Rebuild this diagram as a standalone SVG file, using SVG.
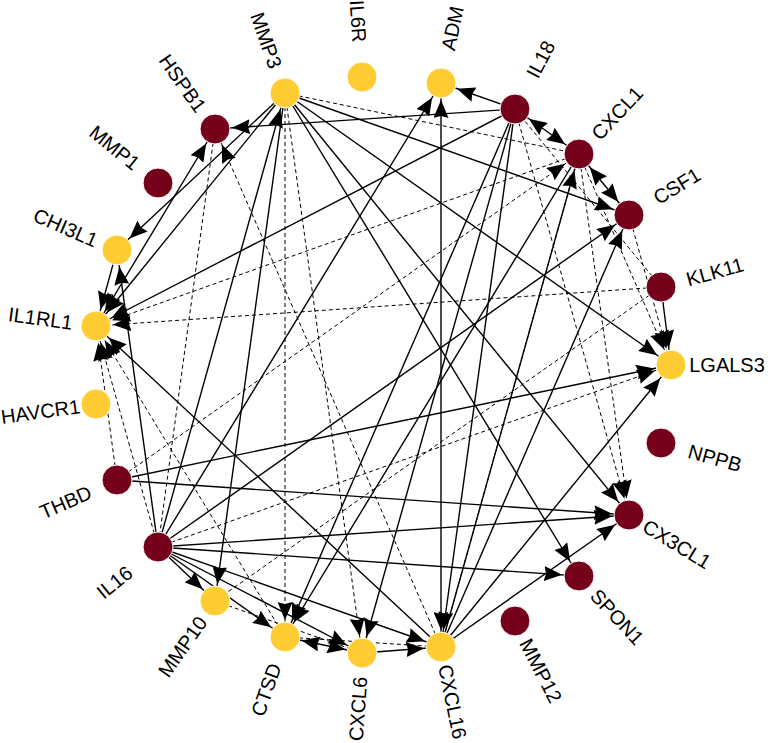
<svg xmlns="http://www.w3.org/2000/svg" width="768" height="743" viewBox="0 0 768 743">
<style>
.s{stroke:#000;stroke-width:1.4;fill:none}
.d{stroke:#000;stroke-width:1;stroke-dasharray:4 3;fill:none}
.e{marker-end:url(#ar)}
.b{marker-start:url(#ar);marker-end:url(#ar)}
.y{fill:#FFCC33;stroke:#fff;stroke-width:1}
.r{fill:#750019;stroke:#fff;stroke-width:1}
text{font-family:"Liberation Sans",Arial,sans-serif;font-size:20px;fill:#000;text-anchor:middle;dominant-baseline:central}
</style>
<defs>
<marker id="ar" viewBox="0 0 18 15" markerWidth="18" markerHeight="15" refX="35" refY="7.5" orient="auto-start-reverse" markerUnits="userSpaceOnUse">
<path d="M0,0 L18,7.5 L0,15 L2,7.5 z" fill="#000"/>
</marker>
</defs>
<rect width="768" height="743" fill="#fff"/>
<g id="edges">
<line class="s e" x1="515" y1="109" x2="441" y2="83"/>
<line class="s e" x1="515" y1="109" x2="215" y2="129"/>
<line class="s e" x1="515" y1="109" x2="96" y2="326"/>
<line class="s e" x1="515" y1="109" x2="285" y2="637"/>
<line class="s e" x1="515" y1="109" x2="362" y2="653"/>
<line class="s b" x1="515" y1="109" x2="579" y2="154"/>
<line class="s b" x1="579" y1="154" x2="629" y2="215"/>
<line class="s e" x1="579" y1="154" x2="285" y2="637"/>
<line class="s e" x1="285" y1="93" x2="629" y2="215"/>
<line class="s e" x1="285" y1="93" x2="671" y2="365"/>
<line class="s e" x1="285" y1="93" x2="629" y2="515"/>
<line class="s e" x1="285" y1="93" x2="579" y2="576"/>
<line class="s e" x1="285" y1="93" x2="117" y2="250"/>
<line class="s e" x1="285" y1="93" x2="96" y2="326"/>
<line class="s e" x1="285" y1="93" x2="215" y2="601"/>
<line class="s e" x1="158" y1="547" x2="285" y2="93"/>
<line class="s e" x1="158" y1="547" x2="117" y2="250"/>
<line class="s b" x1="215" y1="129" x2="96" y2="326"/>
<line class="s e" x1="117" y1="250" x2="96" y2="326"/>
<line class="s e" x1="441" y1="647" x2="96" y2="326"/>
<line class="s e" x1="661" y1="287" x2="671" y2="365"/>
<line class="s e" x1="117" y1="480" x2="671" y2="365"/>
<line class="s e" x1="441" y1="647" x2="671" y2="365"/>
<line class="s e" x1="117" y1="480" x2="629" y2="515"/>
<line class="s e" x1="158" y1="547" x2="629" y2="515"/>
<line class="s e" x1="441" y1="647" x2="629" y2="515"/>
<line class="s e" x1="158" y1="547" x2="579" y2="576"/>
<line class="s e" x1="158" y1="547" x2="215" y2="601"/>
<line class="s e" x1="158" y1="547" x2="285" y2="637"/>
<line class="s e" x1="158" y1="547" x2="362" y2="653"/>
<line class="s e" x1="158" y1="547" x2="441" y2="647"/>
<line class="s e" x1="158" y1="547" x2="629" y2="215"/>
<line class="s e" x1="158" y1="547" x2="441" y2="83"/>
<line class="s b" x1="441" y1="83" x2="441" y2="647"/>
<line class="s b" x1="285" y1="637" x2="362" y2="653"/>
<line class="s e" x1="362" y1="653" x2="441" y2="647"/>
<line class="s e" x1="441" y1="647" x2="629" y2="215"/>
<line class="s e" x1="441" y1="647" x2="579" y2="154"/>
<line class="s e" x1="515" y1="109" x2="441" y2="647"/>
<line class="d" x1="285" y1="93" x2="579" y2="154"/>
<line class="d e" x1="285" y1="93" x2="285" y2="637"/>
<line class="d e" x1="285" y1="93" x2="362" y2="653"/>
<line class="d" x1="215" y1="129" x2="158" y2="547"/>
<line class="d e" x1="441" y1="647" x2="215" y2="129"/>
<line class="d e" x1="661" y1="287" x2="96" y2="326"/>
<line class="d e" x1="579" y1="154" x2="96" y2="326"/>
<line class="d e" x1="117" y1="480" x2="96" y2="326"/>
<line class="d e" x1="158" y1="547" x2="96" y2="326"/>
<line class="d e" x1="285" y1="637" x2="96" y2="326"/>
<line class="d e" x1="629" y1="215" x2="671" y2="365"/>
<line class="d e" x1="579" y1="154" x2="671" y2="365"/>
<line class="d e" x1="158" y1="547" x2="671" y2="365"/>
<line class="d e" x1="579" y1="154" x2="629" y2="515"/>
<line class="d e" x1="515" y1="109" x2="629" y2="515"/>
<line class="d" x1="661" y1="287" x2="215" y2="601"/>
<line class="d" x1="579" y1="154" x2="441" y2="647"/>
<line class="d e" x1="117" y1="480" x2="579" y2="154"/>
<line class="d" x1="215" y1="601" x2="362" y2="653"/>
<line class="d" x1="285" y1="637" x2="441" y2="647"/>
<line class="d" x1="661" y1="287" x2="515" y2="109"/>
</g>
<g id="n-IL6R"><circle class="y" cx="362" cy="77" r="15"/><text transform="translate(358.1,21.1) rotate(86)">IL6R</text></g>
<g id="n-ADM"><circle class="y" cx="441" cy="83" r="15"/><text transform="translate(452.5,28.2) rotate(-78.2)">ADM</text></g>
<g id="n-IL18"><circle class="r" cx="515" cy="109" r="15"/><text transform="translate(540.8,59.3) rotate(-62.5)">IL18</text></g>
<g id="n-CXCL1"><circle class="r" cx="579" cy="154" r="15"/><text transform="translate(617.2,113.1) rotate(-47)">CXCL1</text></g>
<g id="n-CSF1"><circle class="r" cx="629" cy="215" r="15"/><text transform="translate(676.9,185.9) rotate(-31.3)">CSF1</text></g>
<g id="n-KLK11"><circle class="r" cx="661" cy="287" r="15"/><text transform="translate(714.9,271.9) rotate(-15.6)">KLK11</text></g>
<g id="n-LGALS3"><circle class="y" cx="671" cy="365" r="15"/><text transform="translate(727,365)">LGALS3</text></g>
<g id="n-NPPB"><circle class="r" cx="661" cy="443" r="15"/><text transform="translate(714.9,458.1) rotate(15.6)">NPPB</text></g>
<g id="n-CX3CL1"><circle class="r" cx="629" cy="515" r="15"/><text transform="translate(676.9,544.1) rotate(31.3)">CX3CL1</text></g>
<g id="n-SPON1"><circle class="r" cx="579" cy="576" r="15"/><text transform="translate(617.2,616.9) rotate(47)">SPON1</text></g>
<g id="n-MMP12"><circle class="r" cx="515" cy="621" r="15"/><text transform="translate(540.8,670.7) rotate(62.5)">MMP12</text></g>
<g id="n-CXCL16"><circle class="y" cx="441" cy="647" r="15"/><text transform="translate(452.5,701.8) rotate(78.2)">CXCL16</text></g>
<g id="n-CXCL6"><circle class="y" cx="362" cy="653" r="15"/><text transform="translate(358.1,708.9) rotate(-86)">CXCL6</text></g>
<g id="n-CTSD"><circle class="y" cx="285" cy="637" r="15"/><text transform="translate(266.2,689.7) rotate(-70.4)">CTSD</text></g>
<g id="n-MMP10"><circle class="y" cx="215" cy="601" r="15"/><text transform="translate(182.6,646.7) rotate(-54.7)">MMP10</text></g>
<g id="n-IL16"><circle class="r" cx="158" cy="547" r="15"/><text transform="translate(114.5,582.3) rotate(-39.1)">IL16</text></g>
<g id="n-THBD"><circle class="r" cx="117" cy="480" r="15"/><text transform="translate(65.6,502.3) rotate(-23.5)">THBD</text></g>
<g id="n-HAVCR1"><circle class="y" cx="96" cy="404" r="15"/><text transform="translate(40.5,411.6) rotate(-7.8)">HAVCR1</text></g>
<g id="n-IL1RL1"><circle class="y" cx="96" cy="326" r="15"/><text transform="translate(40.5,318.4) rotate(7.8)">IL1RL1</text></g>
<g id="n-CHI3L1"><circle class="y" cx="117" cy="250" r="15"/><text transform="translate(65.6,227.7) rotate(23.5)">CHI3L1</text></g>
<g id="n-MMP1"><circle class="r" cx="158" cy="183" r="15"/><text transform="translate(114.5,147.7) rotate(39.1)">MMP1</text></g>
<g id="n-HSPB1"><circle class="r" cx="215" cy="129" r="15"/><text transform="translate(182.6,83.3) rotate(54.7)">HSPB1</text></g>
<g id="n-MMP3"><circle class="y" cx="285" cy="93" r="15"/><text transform="translate(266.2,40.3) rotate(70.4)">MMP3</text></g>
</svg>
